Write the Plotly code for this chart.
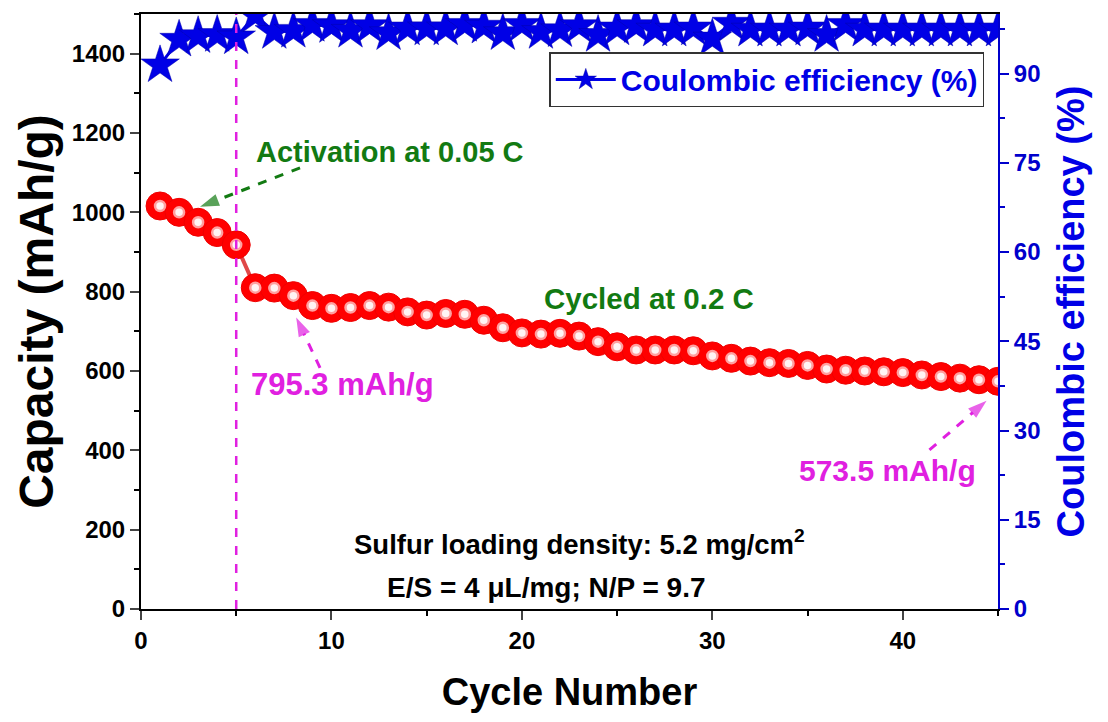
import plotly.graph_objects as go

cycles = list(range(1, 46))
capacity = [1016, 1000, 975, 949, 918, 810, 809, 790, 765, 758,
            760, 765, 761, 749, 741, 745, 743, 728, 709, 696,
            693, 695, 688, 674, 661, 653, 653, 653, 651, 638,
            632, 625, 621, 619, 614, 605, 602, 600, 598, 596,
            590, 586, 582, 578, 574]
ce = [91.4, 95.7, 96.3, 96.5, 96.1, 99.8, 97.0, 97.2, 98.2, 98.0,
      97.2, 98.0, 96.8, 97.6, 97.6, 97.6, 98.2, 97.9, 96.8, 98.2,
      97.0, 97.3, 98.0, 96.5, 97.6, 98.0, 97.4, 97.4, 97.6, 95.9,
      98.4, 97.4, 97.4, 97.4, 97.6, 96.5, 98.2, 97.4, 97.4, 97.4,
      97.4, 97.4, 97.4, 97.4, 97.4]
x_ticks = [0, 10, 20, 30, 40]
y_ticks = [0, 200, 400, 600, 800, 1000, 1200, 1400]
y2_ticks = [0, 15, 30, 45, 60, 75, 90]

FONT = "Arial, Liberation Sans, sans-serif"
BLUE = "#0000e6"
TBLUE = "#0000cc"
GREEN = "#127a12"
MAG = "#e020e0"

def bold(vals):
    return ["<b>%s</b>" % v for v in vals]

fig = go.Figure()
fig.add_trace(go.Scatter(
    x=cycles, y=capacity, mode="lines+markers", showlegend=False,
    line=dict(color="#e04848", width=4),
    marker=dict(symbol="circle", size=28, color="#ff0000",
                line=dict(color="#ee0000", width=1))))
fig.add_trace(go.Scatter(
    x=cycles, y=capacity, mode="markers", showlegend=False,
    marker=dict(symbol="circle", size=10, color="#fff4f4",
                line=dict(color="#ffa0a0", width=2.5))))
fig.add_trace(go.Scatter(
    x=cycles, y=ce, yaxis="y2", mode="lines+markers",
    name="<b>Coulombic efficiency (%)</b>",
    line=dict(color=BLUE, width=3),
    marker=dict(symbol="star", size=29, color=BLUE,
                line=dict(color="#0000aa", width=0.5))))

# vertical dashed line at cycle 5
fig.add_shape(type="line", x0=5, x1=5, y0=0, y1=1500, xref="x", yref="y",
              line=dict(color=MAG, width=2.5, dash="dash"))

def dashed_arrow(x0, y0, x1, y1, color):
    fig.add_trace(go.Scatter(
        x=[x0, x1], y=[y0, y1], mode="lines+markers", showlegend=False,
        line=dict(color=color, width=3, dash="dash"),
        marker=dict(symbol="arrow", size=[0, 20], angleref="previous",
                    color=color, line=dict(width=0))))

dashed_arrow(8.35, 1112, 3.1, 1014, GREEN)
dashed_arrow(9.4, 608, 8.15, 735, MAG)
dashed_arrow(41.4, 401, 44.4, 525, MAG)

def label(x, y, text, color, size):
    fig.add_annotation(x=x, y=y, xref="x", yref="y", text="<b>" + text + "</b>",
                       showarrow=False, font=dict(family=FONT, size=size, color=color))

label(13.1, 1152, "Activation at 0.05 C", GREEN, 29)
label(26.7, 783, "Cycled at 0.2 C", GREEN, 29.5)
label(10.6, 565, "795.3 mAh/g", MAG, 31)
label(39.2, 350, "573.5 mAh/g", MAG, 30)
label(23.0, 168, "Sulfur loading density: 5.2 mg/cm<sup>2</sup>", "black", 27.5)
label(21.3, 53, "E/S = 4 μL/mg; N/P = 9.7", "black", 28)

fig.update_layout(
    width=1108, height=722,
    margin=dict(l=141, r=110, t=14, b=113),
    paper_bgcolor="white", plot_bgcolor="white",
    font=dict(family=FONT, color="black"),
    xaxis=dict(range=[0, 45], tickvals=x_ticks, ticktext=bold(x_ticks),
               ticks="outside", ticklen=9,
               tickwidth=2, showline=True, linewidth=2, linecolor="black",
               mirror=True, showgrid=False, zeroline=False,
               tickfont=dict(size=24, family=FONT),
               minor=dict(dtick=5, ticks="outside", ticklen=5, tickwidth=2,
                          tickcolor="black"),
               title=dict(text="<b>Cycle Number</b>", font=dict(size=38, family=FONT),
                          standoff=26)),
    yaxis=dict(range=[0, 1500], tickvals=y_ticks, ticktext=bold(y_ticks),
               ticks="outside", ticklen=9,
               tickwidth=2, showline=True, linewidth=2, linecolor="black",
               showgrid=False, zeroline=False,
               tickfont=dict(size=24, family=FONT),
               minor=dict(dtick=100, ticks="outside", ticklen=5, tickwidth=2,
                          tickcolor="black"),
               title=dict(text="<b>Capacity (mAh/g)</b>", font=dict(size=48, family=FONT),
                          standoff=3)),
    yaxis2=dict(range=[0, 100], tickvals=y2_ticks, ticktext=bold(y2_ticks),
                overlaying="y", side="right",
                ticks="outside", ticklen=9, tickwidth=2, tickcolor=TBLUE,
                showline=True, linewidth=2, linecolor=TBLUE, showgrid=False,
                zeroline=False, tickfont=dict(size=24, family=FONT, color=TBLUE),
                minor=dict(dtick=7.5, ticks="outside", ticklen=5, tickwidth=2,
                           tickcolor=TBLUE),
                title=dict(text="<b>Coulombic efficiency (%)</b>",
                           font=dict(size=38, family=FONT, color=BLUE), standoff=18)),
    legend=dict(x=0.984, y=0.936, xanchor="right", yanchor="top",
                bgcolor="white", bordercolor="#333333", borderwidth=1.5,
                font=dict(size=30, family=FONT, color=BLUE),
                itemwidth=60, tracegroupgap=0),
)

fig.write_html("out.html")
